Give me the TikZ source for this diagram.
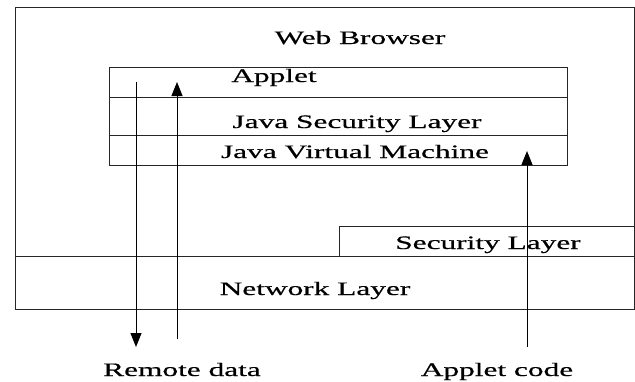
\documentclass[tikz,border=0pt]{standalone}
\usepackage{fontspec}
\setmainfont{Liberation Serif}[FakeStretch=1.65,FakeBold=0.5]
\usetikzlibrary{arrows.meta}
\begin{document}
\begin{tikzpicture}[x=1pt,y=-1pt,
  boxline/.style={draw=black!85,line width=0.9pt},
  lbl/.style={inner sep=0pt,anchor=base,font=\fontsize{19}{21}\selectfont},
  flow/.style={draw=black,line width=1pt,-{Triangle[length=14pt,width=11pt]}}]
\useasboundingbox (0,0) rectangle (635,381);
% outer browser box
\node[boxline,rectangle,inner sep=0pt,minimum width=619pt,minimum height=302pt,anchor=north west] (browser) at (15,7) {};
\node[lbl] (webtxt) at (360,44) {Web Browser};
% inner stack
\node[boxline,rectangle,inner sep=0pt,minimum width=458pt,minimum height=30pt,anchor=north west] (applet) at (109,67) {};
\node[boxline,rectangle,inner sep=0pt,minimum width=458pt,minimum height=38pt,anchor=north west] (jsl) at (109,97) {};
\node[boxline,rectangle,inner sep=0pt,minimum width=458pt,minimum height=30pt,anchor=north west] (jvm) at (109,135) {};
\node[lbl] (applettxt) at (274,82) {Applet};
\node[lbl] (jsltxt) at (357,128) {Java Security Layer};
\node[lbl] (jvmtxt) at (355,158) {Java Virtual Machine};
% security + network layers
\node[boxline,rectangle,inner sep=0pt,minimum width=295pt,minimum height=30pt,anchor=north west] (sec) at (339,226) {};
\node[boxline,rectangle,inner sep=0pt,minimum width=619pt,minimum height=53pt,anchor=north west] (net) at (15,256) {};
\node[lbl] (sectxt) at (488,249) {Security Layer};
\node[lbl] (nettxt) at (315,295) {Network Layer};
% bottom labels
\node[lbl] (remote) at (182,376) {Remote data};
\node[lbl] (code) at (497,376) {Applet code};
% arrow end points
\coordinate (a1s) at (136,82);
\coordinate (a1e) at (136,347);
\coordinate (a2s) at (177,339);
\coordinate (a2e) at (177,82);
\coordinate (a3s) at (527,347);
\coordinate (a3e) at (527,151);
\draw[flow] (a1s) -- (a1e);
\draw[flow] (a2s) -- (a2e);
\draw[flow] (a3s) -- (a3e);
\end{tikzpicture}
\end{document}
